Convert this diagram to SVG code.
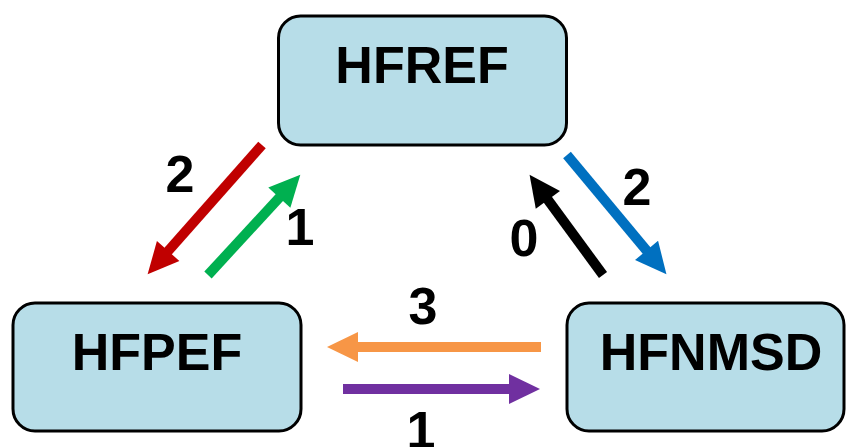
<svg xmlns="http://www.w3.org/2000/svg" width="847" height="447" viewBox="0 0 847 447">
<style>
.box{fill:#B7DDE8;stroke:#000;stroke-width:3}
.t{font-family:"Liberation Sans",Arial,sans-serif;font-weight:bold;font-size:52px;fill:#000;text-anchor:middle}
.c{stroke-width:10;fill:none}
</style>
<defs>
<marker id="mR" markerUnits="strokeWidth" markerWidth="3.2" markerHeight="3" refX="0.1" refY="1.5" orient="auto" overflow="visible"><path d="M0,0 L3.1,1.5 L0,3 z" fill="#C00000"/></marker>
<marker id="mG" markerUnits="strokeWidth" markerWidth="3.2" markerHeight="3" refX="0.1" refY="1.5" orient="auto" overflow="visible"><path d="M0,0 L3.1,1.5 L0,3 z" fill="#00B050"/></marker>
<marker id="mK" markerUnits="strokeWidth" markerWidth="3.2" markerHeight="3" refX="0.1" refY="1.5" orient="auto" overflow="visible"><path d="M0,0 L3.1,1.5 L0,3 z" fill="#000000"/></marker>
<marker id="mB" markerUnits="strokeWidth" markerWidth="3.2" markerHeight="3" refX="0.1" refY="1.5" orient="auto" overflow="visible"><path d="M0,0 L3.1,1.5 L0,3 z" fill="#0070C0"/></marker>
<marker id="mO" markerUnits="strokeWidth" markerWidth="3.2" markerHeight="3" refX="0.1" refY="1.5" orient="auto" overflow="visible"><path d="M0,0 L3.1,1.5 L0,3 z" fill="#F79646"/></marker>
<marker id="mP" markerUnits="strokeWidth" markerWidth="3.2" markerHeight="3" refX="0.1" refY="1.5" orient="auto" overflow="visible"><path d="M0,0 L3.1,1.5 L0,3 z" fill="#7030A0"/></marker>
</defs>
<rect width="847" height="447" fill="#fff"/>
<g id="HFREF">
<rect class="box" x="278.5" y="16" width="288" height="129" rx="22"/>
<text class="t" x="422" y="83">HFREF</text>
</g>
<g id="HFPEF">
<rect class="box" x="13" y="303" width="288" height="128" rx="22"/>
<text class="t" x="157" y="370">HFPEF</text>
</g>
<g id="HFNMSD">
<rect class="box" x="567" y="303" width="277" height="128" rx="22"/>
<text class="t" x="711" y="370">HFNMSD</text>
</g>
<g id="connectors">
<line class="c" stroke="#C00000" x1="262" y1="145" x2="167.5" y2="251.8" marker-end="url(#mR)"/>
<line class="c" stroke="#00B050" x1="208" y1="275" x2="280" y2="196.8" marker-end="url(#mG)"/>
<line class="c" stroke="#000000" x1="603" y1="275" x2="547.3" y2="199" marker-end="url(#mK)"/>
<line class="c" stroke="#0070C0" x1="567" y1="155" x2="647.2" y2="251.2" marker-end="url(#mB)"/>
<line class="c" stroke="#F79646" x1="541" y1="347" x2="357" y2="347" marker-end="url(#mO)"/>
<line class="c" stroke="#7030A0" x1="343" y1="389" x2="510" y2="389" marker-end="url(#mP)"/>
<text class="t" x="180" y="192">2</text>
<text class="t" x="300" y="245">1</text>
<text class="t" x="524" y="256">0</text>
<text class="t" x="637" y="205">2</text>
<text class="t" x="423" y="324">3</text>
<text class="t" x="421" y="448">1</text>
</g>
</svg>
